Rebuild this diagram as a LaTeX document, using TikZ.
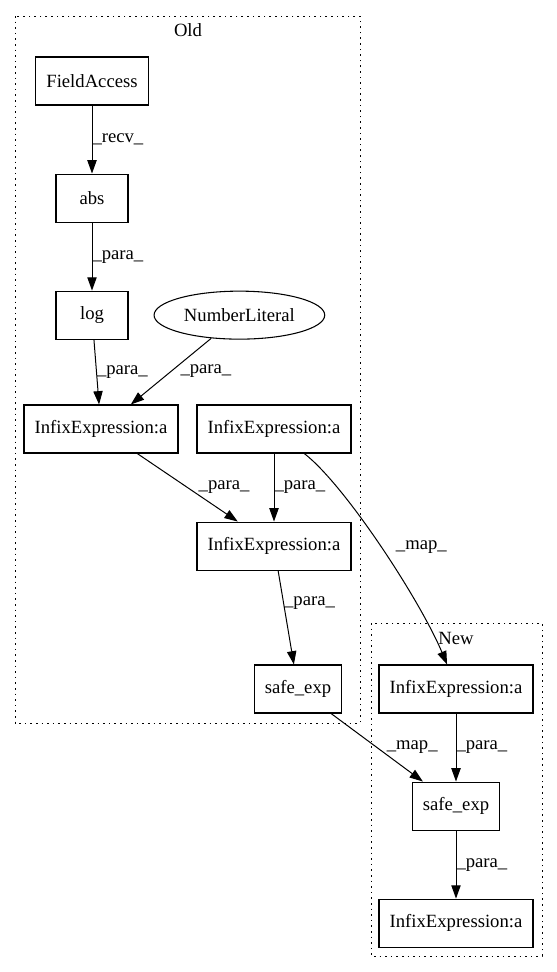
\documentclass[tikz,border=0pt]{standalone}
\usepackage{fontspec}
\setmainfont{Liberation Serif}
\usepackage{tikz}
\usetikzlibrary{positioning,arrows.meta,shapes.geometric}

\tikzset{
	box/.style={draw,rectangle,line width=0.8pt,minimum width=54pt,minimum height=36pt,inner xsep=8pt,inner ysep=0pt},
	oval/.style={draw,ellipse,line width=0.8pt,minimum width=128pt,minimum height=36pt,inner sep=0pt},
	lbl/.style={anchor=west,inner sep=0pt},
	cluster/.style={draw,line width=0.75pt,dash pattern=on 1.2pt off 3pt}
}

\begin{document}
\begin{tikzpicture}[->,>={Triangle[length=10pt,width=7pt]},line width=0.75pt,node distance=51pt,
		x=0.75pt,y=-0.75pt,font=\fontsize{14pt}{16pt}\selectfont]
		\useasboundingbox (0,0) rectangle (557,972);
		% clusters
		\draw[cluster,-] (15,16) rectangle (360,723);
		\node[inner sep=0pt] (old) at (188,30) {Old};
		\draw[cluster,-] (371,623) rectangle (542,956);
		\node[inner sep=0pt] (new) at (456,638) {New};

		\node[box] (fa) at (92,81) {FieldAccess};
		\node[box] (abs) [below=of fa] {abs};
		\node[box] (log) [below=of abs] {log};
		\node[oval] (num) [right=18.75pt of log] {NumberLiteral};
		\node[box] (infA) at (101,429) {InfixExpression:a};
		\node[box] (infB) at (274,429) {InfixExpression:a};
		\node[box] (infC) [below=of infB] {InfixExpression:a};
		\node[box] (expOld) at (298,689) {safe\_exp};
		\node[box] (infD) at (456,689) {InfixExpression:a};
		\node[box] (expNew) [below=of infD] {safe\_exp};
		\node[box] (infE) [below=of expNew] {InfixExpression:a};

		\path	(fa) edge node[lbl] {\_recv\_} (abs)
				(abs) edge node[lbl] {\_para\_} (log)
				(log) edge node[lbl] {\_para\_} (infA)
				(num) edge node[lbl,xshift=6.75pt] {\_para\_} (infA)
				(infA) edge node[lbl,xshift=8pt] {\_para\_} (infC)
				(infB) edge node[lbl] {\_para\_} (infC)
				(infC) edge node[lbl,pos=0.35] {\_para\_} (expOld)
				(expOld) edge node[lbl,xshift=7pt] {\_map\_} (expNew)
				(infD) edge node[lbl] {\_para\_} (expNew)
				(expNew) edge node[lbl] {\_para\_} (infE);
		\draw (infB.-39) .. controls (345,485) and (420,600) .. node[lbl,xshift=11pt] {\_map\_} (infD.110);
\end{tikzpicture}
\end{document}
